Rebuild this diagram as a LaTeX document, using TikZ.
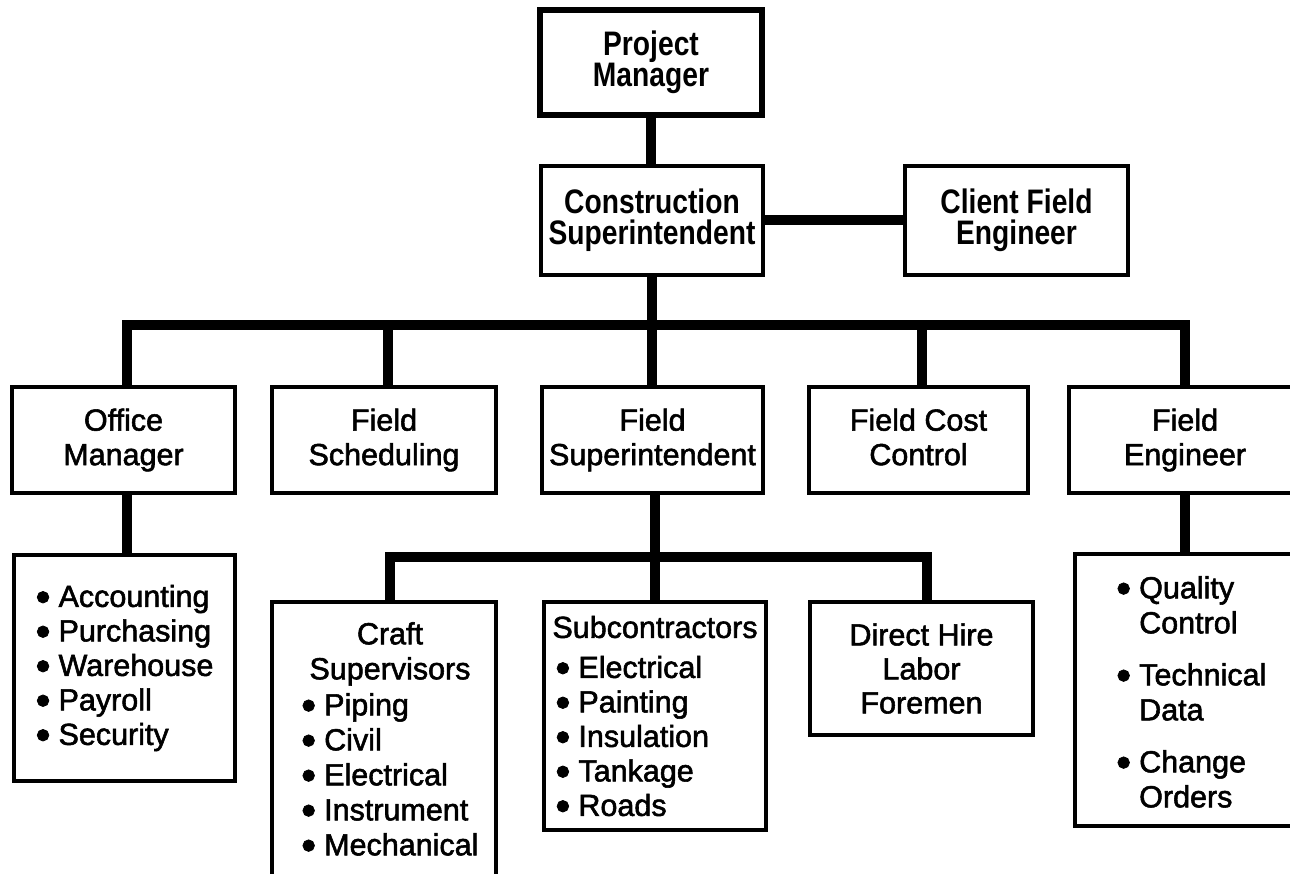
\documentclass[tikz,border=0pt]{standalone}
\usepackage{graphicx}
\usepackage{fontspec}
\setmainfont{Liberation Sans}
\newfontfamily\headfont{Liberation Sans}[FakeStretch=0.83]
\newfontfamily\bodyfont{Liberation Sans}[FakeBold=1.8]
% bullet followed by a fixed gap before the item text
\newcommand\itemdot{\makebox[23pt][l]{\smash{\raisebox{-4.5pt}{\scalebox{1.4}{•}}}}}
\newcommand\hang{\hspace*{23pt}}

\tikzset{
  box/.style={draw=black, line width=4pt, rectangle, inner sep=0pt, align=center,
              font=\bodyfont\fontsize{30.5}{34.5}\selectfont},
  headbox/.style={box, font=\headfont\bfseries\fontsize{34}{31}\selectfont},
  txt/.style={inner sep=0pt, font=\bodyfont\fontsize{30.5}{35}\selectfont},
  conn/.style={draw=black, line width=10pt, line join=miter},
}

\begin{document}
\begin{tikzpicture}[x=1pt, y=-1pt]
  \useasboundingbox (0,0) rectangle (1290,874);
  \clip (0,0) rectangle (1290,874);
  \fill[white] (0,0) rectangle (1290,874);

  % top of the hierarchy
  \node[headbox, line width=6pt, minimum width=222pt, minimum height=105pt] (pm) at (651,62.5) {Project\\Manager};
  \node[headbox, minimum width=222pt, minimum height=109pt] (cs) at (652,220.5) {Construction\\Superintendent};
  \node[headbox, minimum width=223pt, minimum height=109pt] (cfe) at (1016.5,220.5) {Client Field\\Engineer};

  % second level
  \node[box, minimum width=223pt, minimum height=106pt] (om) at (123.5,440) {Office\\Manager};
  \node[box, minimum width=224pt, minimum height=106pt] (fsch) at (384,440) {Field\\Scheduling};
  \node[box, minimum width=221pt, minimum height=106pt] (fsup) at (652.5,440) {Field\\Superintendent};
  \node[box, minimum width=219pt, minimum height=106pt] (fcc) at (918.5,440) {Field Cost\\Control\vphantom{g}};
  \node[box, minimum width=232pt, minimum height=106pt] (fe) at (1185,440) {Field\\Engineer};

  % third level
  \node[box, align=left, minimum width=221pt, minimum height=226pt] (acc) at (124.5,668)
    {\itemdot Accounting\\\itemdot Purchasing\\\itemdot Warehouse\\\itemdot Payroll\\\itemdot Security};
  \node[box, minimum width=224pt, minimum height=298pt] (craft) at (384,751) {};
  \node[txt, align=center, anchor=north] (craft-h) at (390,622) {Craft\\Supervisors};
  \node[txt, align=left, anchor=north west] (craft-l) at (301,693)
    {\itemdot Piping\\\itemdot Civil\\\itemdot Electrical\\\itemdot Instrument\\\itemdot Mechanical};
  \node[box, align=left, minimum width=222pt, minimum height=228pt] (sub) at (655,716)
    {Subcontractors\\[5.5pt]\hspace*{3pt}\itemdot Electrical\\\hspace*{3pt}\itemdot Painting\\\hspace*{3pt}\itemdot Insulation\\\hspace*{3pt}\itemdot Tankage\\\hspace*{3pt}\itemdot Roads};
  \node[box, font=\bodyfont\fontsize{30.5}{34}\selectfont, minimum width=223pt, minimum height=133pt] (dh) at (921.5,668.5)
    {Direct Hire\\Labor\\Foremen};
  \node[box, minimum width=221pt, minimum height=272pt] (qc) at (1185.5,690) {};
  \node[txt, align=left, anchor=north west] (qc-t) at (1116,576)
    {\itemdot Quality\\\hang Control\\[17pt]\itemdot Technical\\\hang Data\\[17pt]\itemdot Change\\\hang Orders};

  % connectors
  \draw[conn] (pm.south) -- (pm.south |- cs.north);
  \draw[conn] (cs.east) -- (cfe.west);
  \coordinate (b1) at (652,325);
  \draw[conn] (cs.south) -- (cs.south |- fsup.north);
  \draw[conn] ([xshift=3.5pt]om.north) |- (b1) -| (fe.north);
  \draw[conn] ([xshift=4pt]fsch.north) -- ([xshift=4pt]fsch.north |- b1);
  \draw[conn] ([xshift=3.5pt]fcc.north) -- ([xshift=3.5pt]fcc.north |- b1);

  \draw[conn] ([xshift=3.5pt]om.south) -- ([xshift=3.5pt]om.south |- acc.north);
  \draw[conn] (fe.south) -- (fe.south |- qc.north);

  \coordinate (b2) at (655,557);
  \draw[conn] (fsup.south -| sub.north) -- (sub.north);
  \draw[conn] ([xshift=6pt]craft.north) |- (b2) -| ([xshift=5.5pt]dh.north);
\end{tikzpicture}
\end{document}
